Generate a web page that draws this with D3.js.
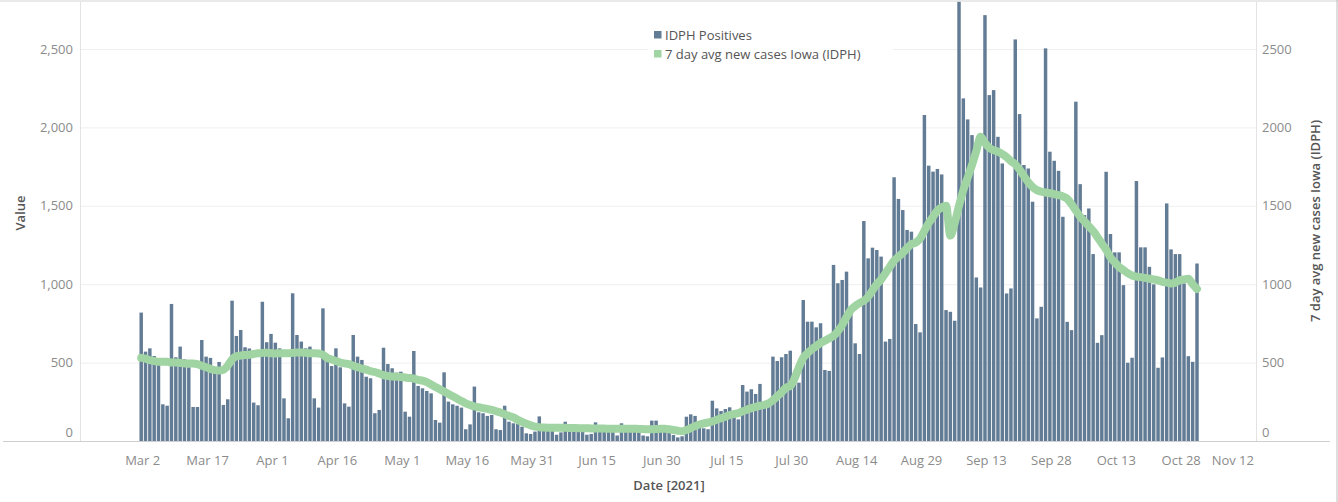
<!DOCTYPE html>
<html><head><meta charset="utf-8">
<script src="https://cdn.jsdelivr.net/npm/d3@7"></script>
<style>
html,body{margin:0;padding:0;background:#fff;}
svg{display:block;font-family:"Open Sans",sans-serif;}
</style></head>
<body><svg id="chart" width="1338" height="502"></svg>
<script>
// ---- DATA ----
const startDate = "2021-03-02"; // first daily bar
const positives = [
 819,570,591,542,520,234,225,
 874,534,602,521,470,217,217,
 644,538,530,470,504,230,266,
 895,670,708,598,590,245,228,
 888,630,683,627,591,272,145,
 942,676,634,591,602,272,213,
 846,555,478,591,470,240,219,
 676,538,517,410,400,177,198,
 595,491,464,436,442,187,155,
 574,351,336,319,304,134,117,
 438,251,234,225,213,75,106,
 347,183,177,160,166,75,70,
 225,123,113,108,91,49,45,
 60,157,95,85,80,40,55,
 123,80,75,70,65,40,45,
 119,70,65,65,60,35,113,
 70,65,60,65,35,30,130,
 130,80,75,60,38,23,30,
 155,170,160,92,81,75,257,
 208,191,204,215,151,138,357,
 315,330,300,364,230,230,538,
 510,534,555,576,372,372,899,
 761,761,725,751,453,447,1123,
 1006,1027,1080,860,623,555,1403,
 1165,1233,1218,1176,634,651,1682,
 1544,1473,1346,1335,746,693,2079,
 1756,1718,1735,1700,835,824,767,
 2801,2185,2051,1951,1043,979,2716,
 2206,2238,1940,1770,941,973,2561,
 2085,1760,1738,1526,782,856,2504,
 1845,1787,1723,1430,760,707,2164,
 1638,1441,1483,1192,626,675,1717,
 1320,1203,1203,994,499,531,1658,
 1235,1235,1111,999,467,533,1515,
 1222,1192,1192,1005,541,505,1132
];
const avg7 = [
 530,525,515,510,505,505,505,
 500,500,498,495,495,495,490,
 480,470,460,452,450,455,480,
 520,540,545,548,550,555,560,
 562,563,560,558,560,560,560,
 562,565,565,562,560,560,558,
 550,530,520,510,500,495,490,
 480,470,462,455,445,440,430,
 420,415,412,410,408,405,402,
 398,390,385,375,360,345,330,
 315,300,285,270,255,240,230,
 220,215,210,205,198,190,182,
 170,160,150,135,122,110,100,
 92,88,86,85,85,84,84,
 84,83,83,82,82,82,80,
 80,79,79,78,78,78,78,
 78,78,78,77,76,75,75,
 76,78,78,75,70,65,62,
 70,82,95,105,112,118,125,
 135,145,155,165,172,178,190,
 200,210,218,225,230,240,260,
 285,310,340,350,400,470,530,
 560,585,605,625,640,655,670,
 700,740,790,835,860,880,895,
 920,960,1000,1030,1070,1110,1150,
 1175,1200,1230,1255,1265,1290,1340,
 1390,1430,1470,1490,1500,1310,1390,
 1500,1600,1680,1760,1850,1940,1900,
 1870,1855,1845,1830,1810,1785,1765,
 1730,1690,1650,1620,1600,1590,1585,
 1580,1575,1568,1560,1545,1510,1470,
 1430,1400,1370,1340,1300,1260,1220,
 1170,1140,1110,1090,1070,1055,1048,
 1045,1040,1035,1030,1025,1015,1010,
 1005,1010,1025,1030,1035,1000,970
];
const tickDates = ["2021-03-02","2021-03-17","2021-04-01","2021-04-16","2021-05-01","2021-05-16","2021-05-31","2021-06-15","2021-06-30","2021-07-15","2021-07-30","2021-08-14","2021-08-29","2021-09-13","2021-09-28","2021-10-13","2021-10-28","2021-11-12"];
const tickLabels = ["Mar 2","Mar 17","Apr 1","Apr 16","May 1","May 16","May 31","Jun 15","Jun 30","Jul 15","Jul 30","Aug 14","Aug 29","Sep 13","Sep 28","Oct 13","Oct 28","Nov 12"];
const yTicks = [0,500,1000,1500,2000,2500];
const seriesNames = ["IDPH Positives","7 day avg new cases Iowa (IDPH)"];

// ---- CHART ----
const svg = d3.select("#chart");
const parse = d3.utcParse("%Y-%m-%d");
const t0 = parse(startDate);
const days = positives.map((v,i)=>({date:d3.utcDay.offset(t0,i), v, a:avg7[i]}));

const plotL = 80, plotR = 1256, plotT = 2, plotB = 441;
const x = d3.scaleUtc().domain([parse("2021-03-02"), parse("2021-11-12")]).range([141.2, 1244.6]);
const y = d3.scaleLinear().domain([0,2800]).range([plotB, plotB-2800*0.1568]);
const y2 = d3.scaleLinear().domain([0,2800]).range([plotB, plotB-2800*0.1568]);

const barColor = "#637c95", lineColor = "#a0d4a3";
const textGray = "#8b8b8b", titleGray = "#555";

// frame lines
svg.append("line").attr("x1",0).attr("x2",1338).attr("y1",1).attr("y2",1).attr("stroke","#d4d4d4");
svg.append("line").attr("x1",1337).attr("x2",1337).attr("y1",0).attr("y2",502).attr("stroke","#bdbdbd");

// gridlines
svg.append("g").selectAll("line").data(yTicks.filter(d=>d>0)).join("line")
  .attr("x1",plotL).attr("x2",plotR).attr("y1",d=>y(d)+0.5).attr("y2",d=>y(d)+0.5)
  .attr("stroke","#efefef");
svg.append("line").attr("x1",plotL+0.5).attr("x2",plotL+0.5).attr("y1",plotT).attr("y2",plotB).attr("stroke","#e3e3e3");
svg.append("line").attr("x1",plotR+0.5).attr("x2",plotR+0.5).attr("y1",plotT).attr("y2",plotB).attr("stroke","#e3e3e3");

// bars
const step = x(d3.utcDay.offset(t0,1)) - x(t0);
const bw = step*0.8;
svg.append("g").selectAll("rect").data(days).join("rect")
  .attr("x",d=>x(d.date)-bw/2).attr("width",bw)
  .attr("y",d=>y(d.v)).attr("height",d=>plotB-y(d.v))
  .attr("fill",barColor);

// baseline
svg.append("line").attr("x1",3).attr("x2",1330).attr("y1",plotB+0.5).attr("y2",plotB+0.5).attr("stroke","#cfcfcf");

// line
const line = d3.line().x(d=>x(d.date)).y(d=>y2(d.a)).curve(d3.curveMonotoneX);
svg.append("path").datum(days).attr("d",line).attr("fill","none")
  .attr("stroke",lineColor).attr("stroke-width",8).attr("stroke-linejoin","round").attr("stroke-linecap","round");

// left axis labels
const fmt = d3.format(",");
svg.append("g").selectAll("text").data(yTicks).join("text")
  .attr("x",73).attr("y",d=>Math.min(y(d),432)).attr("dy","0.35em")
  .attr("text-anchor","end").attr("font-size",13).attr("fill",textGray).text(d=>fmt(d));
svg.append("g").selectAll("text").data(yTicks).join("text")
  .attr("x",1262).attr("y",d=>Math.min(y2(d),432)).attr("dy","0.35em")
  .attr("text-anchor","start").attr("font-size",13).attr("fill",textGray).text(d=>String(d));

// x axis labels
const xl = svg.append("g").selectAll("text").data(tickDates).join("text")
  .attr("x",d=>x(parse(d))+1.5).attr("y",460).attr("dy","0.35em")
  .attr("text-anchor","middle").attr("font-size",13).attr("fill",textGray)
  .text((d,i)=>tickLabels[i]);
xl.each(function(){
  const w = this.getComputedTextLength();
  const cx = +this.getAttribute("x");
  if (cx + w/2 > plotR-2) this.setAttribute("x", plotR-2-w/2);
});

// axis titles
svg.append("text").attr("transform","translate(25,213) rotate(-90)").attr("text-anchor","middle")
  .attr("font-size",13).attr("font-weight",600).attr("fill",titleGray).text("Value");
svg.append("text").attr("transform","translate(1320,221) rotate(-90)").attr("text-anchor","middle")
  .attr("font-size",13).attr("font-weight",600).attr("fill",titleGray).text(seriesNames[1]);
svg.append("text").attr("x",669).attr("y",485).attr("dy","0.35em").attr("text-anchor","middle")
  .attr("font-size",13).attr("font-weight",600).attr("fill",titleGray).text("Date [2021]");

// legend
const lg = svg.append("g");
lg.append("rect").attr("x",648).attr("y",25).attr("width",245).attr("height",38).attr("fill","#fff");
[barColor,lineColor].forEach((c,i)=>{
  lg.append("rect").attr("x",654).attr("y",31+i*19).attr("width",7.5).attr("height",7.5).attr("fill",c);
  lg.append("text").attr("x",665).attr("y",35+i*19).attr("dy","0.35em").attr("font-size",13)
    .attr("fill","#555").text(seriesNames[i]);
});
</script></body></html>
